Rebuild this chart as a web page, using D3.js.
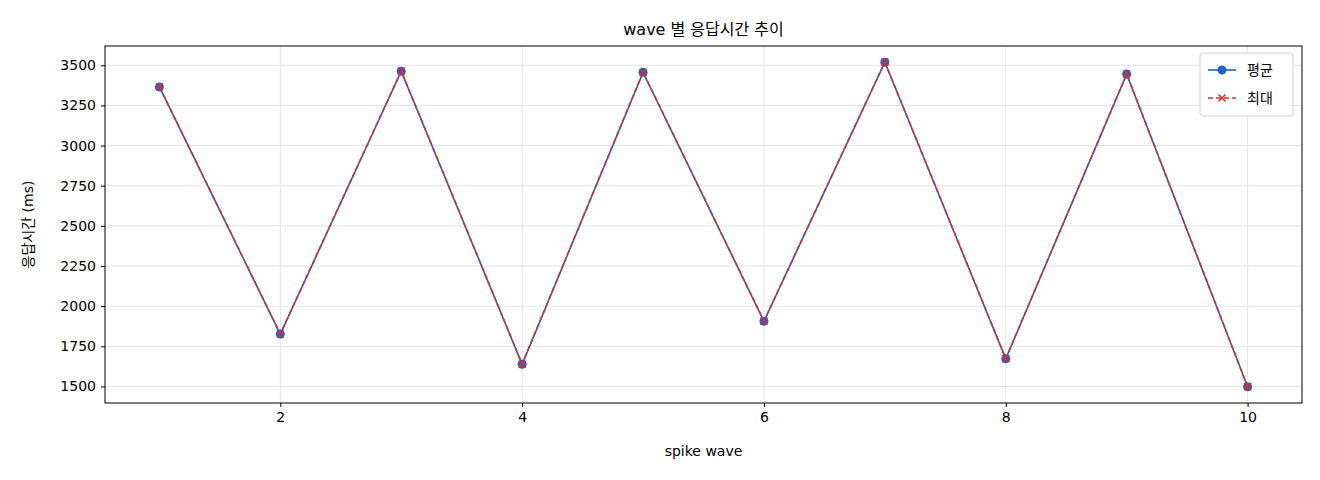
<!DOCTYPE html>
<html><head><meta charset="utf-8">
<script src="https://cdn.jsdelivr.net/npm/d3@7"></script>
<style>body{margin:0;background:#fff;font-family:"Noto Sans CJK KR","DejaVu Sans",sans-serif;}</style>
</head><body><svg id="c" width="1320" height="480"></svg>
<script>
const waves = [1,2,3,4,5,6,7,8,9,10];
const avgMs = [3365,1826,3463,1638,3456,1906,3519,1672,3445,1498];
const maxMs = [3366,1827,3464,1639,3457,1907,3520,1673,3446,1499];
const xTicks = [2,4,6,8,10];
const yTicks = [1500,1750,2000,2250,2500,2750,3000,3250,3500];
const title = "wave 별 응답시간 추이", xLabel = "spike wave", yLabel = "응답시간 (ms)";
const names = ["평균","최대"];

const svg = d3.select("#c");
const L=105,R=1302,T=46,B=403;
const x = d3.scaleLinear().domain([0.55,10.45]).range([L,R]);
const y = d3.scaleLinear().domain([1397,3620]).range([B,T]);
const font = "14px 'DejaVu Sans', 'Noto Sans CJK KR', sans-serif";
const kfont = "14px 'Noto Sans CJK KR', sans-serif";

const g = svg.append("g");
g.selectAll(".gx").data(xTicks).join("line").attr("x1",d=>x(d)).attr("x2",d=>x(d)).attr("y1",T).attr("y2",B).attr("stroke","#e3e3e3");
g.selectAll(".gy").data(yTicks).join("line").attr("y1",d=>y(d)).attr("y2",d=>y(d)).attr("x1",L).attr("x2",R).attr("stroke","#e3e3e3");

const xa = svg.append("g").attr("transform",`translate(0,${B})`).call(d3.axisBottom(x).tickValues(xTicks).tickFormat(d3.format("d")).tickSize(4).tickPadding(5));
const ya = svg.append("g").attr("transform",`translate(${L},0)`).call(d3.axisLeft(y).tickValues(yTicks).tickFormat(d3.format("d")).tickSize(4).tickPadding(5));
[xa,ya].forEach(a=>{a.select(".domain").remove();a.selectAll("text").style("font",font).attr("fill","#000");});
svg.append("rect").attr("x",L).attr("y",T).attr("width",R-L).attr("height",B-T).attr("fill","none").attr("stroke","#000");

const line = d3.line().x((d,i)=>x(waves[i])).y(d=>y(d));
svg.append("path").datum(avgMs).attr("d",line).attr("fill","none").attr("stroke","#1f63c4").attr("stroke-width",1.6);
svg.selectAll(".pt").data(avgMs).join("circle").attr("cx",(d,i)=>x(waves[i])).attr("cy",d=>y(d)).attr("r",4.5).attr("fill","#1f63c4");
svg.append("path").datum(maxMs).attr("d",line).attr("fill","none").attr("stroke","#d42f33").attr("stroke-width",1.6).attr("stroke-dasharray","5,3");
const cross=(sel,cx,cy,s)=>sel.append("path").attr("d",`M${cx-s},${cy-s}L${cx+s},${cy+s}M${cx-s},${cy+s}L${cx+s},${cy-s}`).attr("stroke","#d42f33").attr("stroke-width",1.5);
maxMs.forEach((d,i)=>cross(svg,x(waves[i]),y(d),3.5));

svg.append("text").attr("x",(L+R)/2).attr("y",35).attr("text-anchor","middle").style("font","16px 'DejaVu Sans','Noto Sans CJK KR', sans-serif").text(title);
svg.append("text").attr("x",(L+R)/2).attr("y",456).attr("text-anchor","middle").style("font",font).text(xLabel);
svg.append("text").attr("transform",`translate(33,${(T+B)/2}) rotate(-90)`).attr("text-anchor","middle").style("font",font).text(yLabel);

const lg = svg.append("g").attr("transform","translate(1200,53)");
lg.append("rect").attr("width",93).attr("height",63).attr("rx",3).attr("fill","#fff").attr("stroke","#d0d0d0");
lg.append("line").attr("x1",8).attr("x2",36).attr("y1",17).attr("y2",17).attr("stroke","#1f63c4").attr("stroke-width",1.6);
lg.append("circle").attr("cx",22).attr("cy",17).attr("r",4.5).attr("fill","#1f63c4");
lg.append("line").attr("x1",8).attr("x2",36).attr("y1",45).attr("y2",45).attr("stroke","#d42f33").attr("stroke-width",1.6).attr("stroke-dasharray","5,3");
cross(lg,22,45,3.5);
lg.selectAll(".lt").data(names).join("text").attr("x",47).attr("y",(d,i)=>22+i*28).style("font",kfont).text(d=>d);
</script></body></html>
